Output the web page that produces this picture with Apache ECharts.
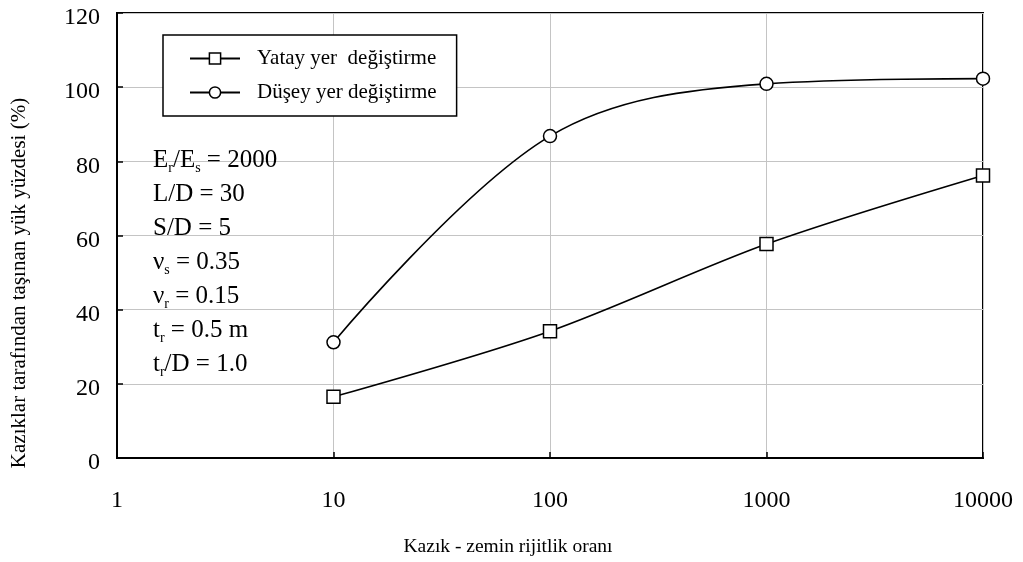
<!DOCTYPE html>
<html>
<head>
<meta charset="utf-8">
<script src="https://cdn.jsdelivr.net/npm/echarts@6/dist/echarts.min.js"></script>
<style>
  html, body { margin: 0; padding: 0; background: #fff; }
  #chart { width: 1023px; height: 562px; }
</style>
</head>
<body>
<div id="chart"></div>
<script>
// Pile-soil stiffness ratio (log scale) and share of load carried by the piles (%)
const stiffnessRatio = [10, 100, 1000, 10000];
const lateralShare = [16.5, 34.2, 57.7, 76.2];     // Yatay yer değiştirme
const verticalShare = [31.2, 86.8, 100.9, 102.3];  // Düşey yer değiştirme
const seriesNames = ['Yatay yer  değiştirme', 'Düşey yer değiştirme'];
const yTicks = { min: 0, max: 120, step: 20 };
const xRange = { min: 1, max: 10000 };
const xTitle = 'Kazık - zemin rijitlik oranı';
const yTitle = 'Kazıklar tarafından taşınan yük yüzdesi (%)';

const FONT = "'Liberation Serif', 'Times New Roman', serif";

const pairs = (xs, ys) => xs.map((x, i) => [x, ys[i]]);

// parameter block: main text with r/s subscripts
const paramLines = [
  'E{sub|r}/E{sub|s} = 2000',
  'L/D = 30',
  'S/D = 5',
  'ν{sub|s} = 0.35',
  'ν{sub|r} = 0.15',
  't{sub|r} = 0.5 m',
  't{sub|r}/D = 1.0'
];

const chart = echarts.init(document.getElementById('chart'), null, { renderer: 'canvas' });

const markerStyle = { color: '#fff', borderColor: '#000', borderWidth: 1.5 };
const lineStyle = { color: '#000', width: 1.6 };

const option = {
  backgroundColor: '#fff',
  animation: false,
  grid: {
    left: 117, right: 40, top: 13, bottom: 104,
    show: true, borderColor: '#000', borderWidth: 2, backgroundColor: 'transparent'
  },
  legend: {
    orient: 'vertical',
    left: 163, top: 35,
    padding: [13, 20, 13, 26],
    itemGap: 13,
    itemWidth: 50, itemHeight: 14,
    backgroundColor: '#fff',
    borderColor: '#000', borderWidth: 1.5, borderRadius: 0,
    itemStyle: markerStyle,
    textStyle: { fontFamily: FONT, fontSize: 21, color: '#000', padding: [0, 0, 0, 12] },
    data: seriesNames
  },
  xAxis: {
    type: 'log', logBase: 10, min: xRange.min, max: xRange.max,
    axisLine: { show: true, lineStyle: { color: '#000', width: 2 } },
    axisTick: { show: true, inside: true, length: 6, lineStyle: { color: '#000', width: 1.5 } },
    minorTick: { show: false },
    splitLine: { show: true, lineStyle: { color: '#c4c4c4', width: 1 } },
    axisLabel: {
      fontFamily: FONT, fontSize: 24, color: '#000', margin: 31,
      formatter: v => String(Math.round(v))
    }
  },
  yAxis: {
    type: 'value', min: yTicks.min, max: yTicks.max, interval: yTicks.step,
    axisLine: { show: true, lineStyle: { color: '#000', width: 2 } },
    axisTick: { show: true, inside: true, length: 6, lineStyle: { color: '#000', width: 1.5 } },
    splitLine: { show: true, lineStyle: { color: '#c4c4c4', width: 1 } },
    axisLabel: {
      margin: 17,
      formatter: v => '{n|' + v + '}',
      rich: { n: { fontFamily: FONT, fontSize: 24, color: '#000', padding: [10, 0, 0, 0] } }
    }
  },
  series: [
    {
      name: seriesNames[0], type: 'line', data: pairs(stiffnessRatio, lateralShare),
      smooth: 0.3, symbol: 'rect', symbolSize: 13, showSymbol: true, clip: false,
      itemStyle: markerStyle, lineStyle: lineStyle, z: 3
    },
    {
      name: seriesNames[1], type: 'line', data: pairs(stiffnessRatio, verticalShare),
      smooth: 0.35, symbol: 'circle', symbolSize: 13, showSymbol: true, clip: false,
      itemStyle: markerStyle, lineStyle: lineStyle, z: 3
    }
  ],
  graphic: [
    {
      type: 'text', x: 19, y: 283, rotation: Math.PI / 2,
      style: { text: yTitle, fontFamily: FONT, fontSize: 21, fill: '#000', align: 'center', verticalAlign: 'middle' }
    },
    {
      type: 'text', x: 508, y: 547,
      style: { text: xTitle, fontFamily: FONT, fontSize: 19.5, fill: '#000', align: 'center', verticalAlign: 'middle' }
    }
  ].concat(paramLines.map((t, i) => ({
    type: 'text', x: 153, y: 160 + i * 34, z: 10,
    style: {
      text: t, fontFamily: FONT, fontSize: 25, fill: '#000',
      align: 'left', verticalAlign: 'middle', lineHeight: 30,
      rich: {
        sub: { fontFamily: FONT, fontSize: 14, lineHeight: 14, verticalAlign: 'bottom', fill: '#000' }
      }
    }
  })))
};

chart.setOption(option);
</script>
</body>
</html>
